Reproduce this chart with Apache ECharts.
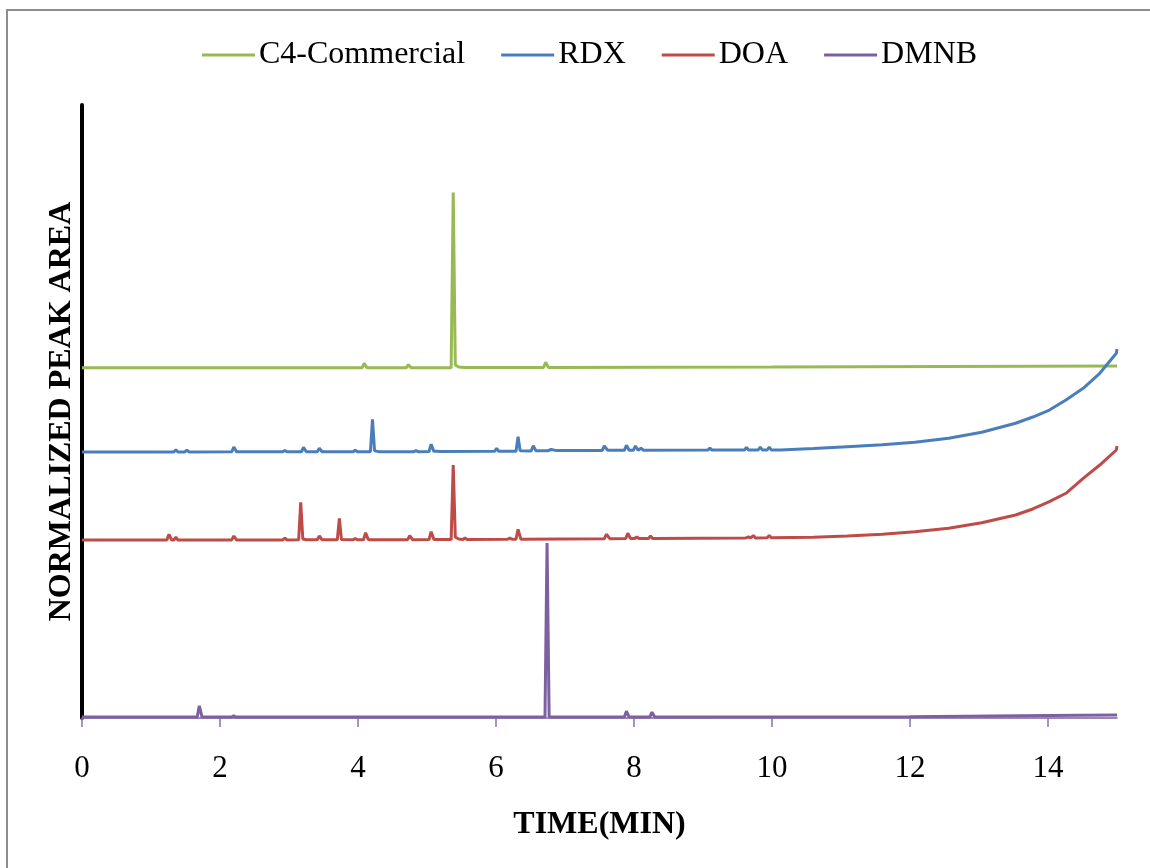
<!DOCTYPE html>
<html>
<head>
<meta charset="utf-8">
<title>Chromatograms</title>
<script src="https://cdn.jsdelivr.net/npm/echarts@6/dist/echarts.min.js"></script>
<style>
  html, body { margin: 0; padding: 0; background: #fff; }
  #chart { width: 1150px; height: 868px; }
</style>
</head>
<body>
<div id="chart"></div>
<script>
// Series names in legend order
const seriesNames = ['C4-Commercial', 'RDX', 'DOA', 'DMNB'];
const seriesColors = ['#98B954', '#4A7EBB', '#BE4B48', '#7D60A0'];

// Time-axis tick labels (minutes)
const timeTicks = [0, 2, 4, 6, 8, 10, 12, 14];

// Chromatogram traces: [time (min), normalized response], offset per sample
const c4Commercial = [
  [0, 57.14], [4.06, 57.14], [4.09, 57.86], [4.13, 57.14],
  [4.70, 57.15], [4.73, 57.63], [4.77, 57.15],
  [5.35, 57.15], [5.38, 85.73], [5.41, 57.6], [5.46, 57.25], [5.55, 57.16],
  [5.79, 57.16], [5.81, 57.39], [5.84, 57.16],
  [6.69, 57.17], [6.72, 58.03], [6.76, 57.17],
  [10, 57.25], [15, 57.42]
];

const rdx = [
  [0, 43.4], [1.33, 43.4], [1.36, 43.75], [1.39, 43.4],
  [1.49, 43.4], [1.52, 43.7], [1.55, 43.4],
  [2.17, 43.42], [2.2, 44.21], [2.24, 43.42],
  [2.91, 43.43], [2.94, 43.65], [2.97, 43.43],
  [3.18, 43.43], [3.21, 44.16], [3.25, 43.43],
  [3.41, 43.43], [3.44, 44.0], [3.48, 43.43],
  [3.93, 43.44], [3.96, 43.7], [3.99, 43.44],
  [4.18, 43.44], [4.21, 48.73], [4.24, 43.6], [4.3, 43.45],
  [4.81, 43.45], [4.84, 43.65], [4.87, 43.45],
  [5.03, 43.46], [5.06, 44.67], [5.1, 43.5],
  [5.14, 43.5], [5.16, 43.8], [5.2, 43.48],
  [5.98, 43.5], [6.01, 44.0], [6.04, 43.5],
  [6.29, 43.52], [6.32, 45.89], [6.35, 43.6],
  [6.51, 43.55], [6.54, 44.42], [6.58, 43.58],
  [6.75, 43.6], [6.8, 43.8], [6.88, 43.62],
  [7.54, 43.65], [7.57, 44.37], [7.62, 43.66],
  [7.86, 43.66], [7.89, 44.49], [7.93, 43.67],
  [7.99, 43.67], [8.02, 44.37], [8.06, 43.67], [8.1, 44.0], [8.14, 43.68],
  [9.07, 43.7], [9.1, 44.05], [9.13, 43.7],
  [9.6, 43.71], [9.63, 44.13], [9.66, 43.71],
  [9.8, 43.72], [9.83, 44.21], [9.86, 43.72],
  [9.93, 43.72], [9.96, 44.21], [9.99, 43.72],
  [10.12, 43.72], [10.6, 43.96], [11.09, 44.26], [11.6, 44.58],
  [12.07, 44.98], [12.56, 45.63], [13.04, 46.61], [13.53, 48.08],
  [13.78, 49.1], [14.02, 50.24], [14.26, 51.88], [14.51, 53.78],
  [14.75, 56.23], [14.99, 59.49], [15, 60.2]
];

const doa = [
  [0, 29.04], [1.23, 29.04], [1.26, 29.97], [1.3, 29.04],
  [1.33, 29.04], [1.36, 29.48], [1.39, 29.04],
  [2.17, 29.05], [2.2, 29.69], [2.24, 29.05],
  [2.91, 29.05], [2.94, 29.36], [2.97, 29.05],
  [3.14, 29.06], [3.17, 35.19], [3.2, 29.2], [3.25, 29.07],
  [3.41, 29.07], [3.44, 29.69], [3.48, 29.07],
  [3.7, 29.07], [3.73, 32.58], [3.76, 29.1],
  [3.93, 29.08], [3.96, 29.28], [3.99, 29.08],
  [4.08, 29.08], [4.11, 30.23], [4.15, 29.1],
  [4.18, 29.08], [4.2, 29.36], [4.23, 29.08],
  [4.72, 29.09], [4.75, 29.74], [4.79, 29.09],
  [5.03, 29.1], [5.06, 30.39], [5.1, 29.12],
  [5.35, 29.1], [5.38, 41.27], [5.41, 29.5], [5.46, 29.2],
  [5.52, 29.12], [5.55, 29.36], [5.58, 29.12],
  [6.17, 29.15], [6.2, 29.36], [6.23, 29.15],
  [6.29, 29.15], [6.32, 30.78], [6.36, 29.18],
  [7.57, 29.25], [7.6, 29.97], [7.65, 29.26],
  [7.88, 29.27], [7.91, 30.13], [7.95, 29.28],
  [8.01, 29.28], [8.04, 29.53], [8.07, 29.28],
  [8.21, 29.29], [8.24, 29.69], [8.27, 29.29],
  [9.62, 29.38], [9.66, 29.53], [9.69, 29.38], [9.73, 29.77], [9.76, 29.38],
  [9.93, 29.4], [9.96, 29.77], [9.99, 29.4],
  [10.6, 29.5], [11.09, 29.69], [11.6, 29.97], [12.07, 30.39],
  [12.56, 30.95], [13.04, 31.86], [13.53, 33.12], [13.78, 34.1],
  [14.02, 35.29], [14.26, 36.66], [14.51, 39.1], [14.75, 41.27],
  [14.99, 43.72], [15, 44.37]
];

const dmnb = [
  [0, 0.15], [1.67, 0.15], [1.70, 2.0], [1.74, 0.15],
  [2.17, 0.15], [2.2, 0.35], [2.23, 0.15],
  [6.71, 0.15], [6.74, 28.55], [6.77, 0.2], [6.82, 0.15],
  [7.86, 0.15], [7.89, 1.1], [7.93, 0.15],
  [8.23, 0.15], [8.26, 0.95], [8.3, 0.15],
  [12, 0.2], [14, 0.4], [15, 0.5]
];

const traces = [c4Commercial, rdx, doa, dmnb];
const serif = "'Liberation Serif', 'Times New Roman', serif";

const chart = echarts.init(document.getElementById('chart'), null, { renderer: 'canvas' });

chart.setOption({
  backgroundColor: '#ffffff',
  animation: false,
  graphic: [{
    type: 'rect',
    silent: true,
    z: -1,
    shape: { x: 7, y: 10, width: 1200, height: 900 },
    style: { fill: 'none', stroke: '#8c8c8c', lineWidth: 2 }
  }],
  legend: {
    left: 197,
    top: 34,
    icon: 'rect',
    itemWidth: 53,
    itemHeight: 3,
    itemGap: 36,
    data: seriesNames,
    textStyle: { fontFamily: serif, fontSize: 32, color: '#000', padding: [0, 0, 0, -1] }
  },
  grid: { left: 82, right: 33, top: 105, bottom: 150, containLabel: false },
  xAxis: {
    type: 'value',
    min: 0,
    max: 15,
    name: 'TIME(MIN)',
    nameLocation: 'middle',
    nameGap: 91,
    nameTextStyle: { fontFamily: serif, fontSize: 32, fontWeight: 'bold', color: '#000' },
    axisLine: { show: true, lineStyle: { color: '#7D60A0', width: 1.5 } },
    axisTick: { show: true, inside: false, length: 9, customValues: timeTicks, lineStyle: { color: '#8a73ab', width: 1.5 } },
    axisLabel: { customValues: timeTicks, margin: 35, fontFamily: serif, fontSize: 31, color: '#000' },
    splitLine: { show: false }
  },
  yAxis: {
    type: 'value',
    min: 0,
    max: 100,
    name: 'NORMALIZED PEAK AREA',
    nameLocation: 'middle',
    nameGap: 4,
    nameTextStyle: { fontFamily: serif, fontSize: 32, fontWeight: 'bold', color: '#000' },
    axisLine: { show: true, lineStyle: { color: '#000', width: 4 } },
    axisTick: { show: false },
    axisLabel: { show: false },
    splitLine: { show: false }
  },
  series: seriesNames.map((name, i) => ({
    name,
    type: 'line',
    data: traces[i],
    symbol: 'none',
    color: seriesColors[i],
    lineStyle: { width: 3, color: seriesColors[i] },
    clip: false
  }))
});
</script>
</body>
</html>
